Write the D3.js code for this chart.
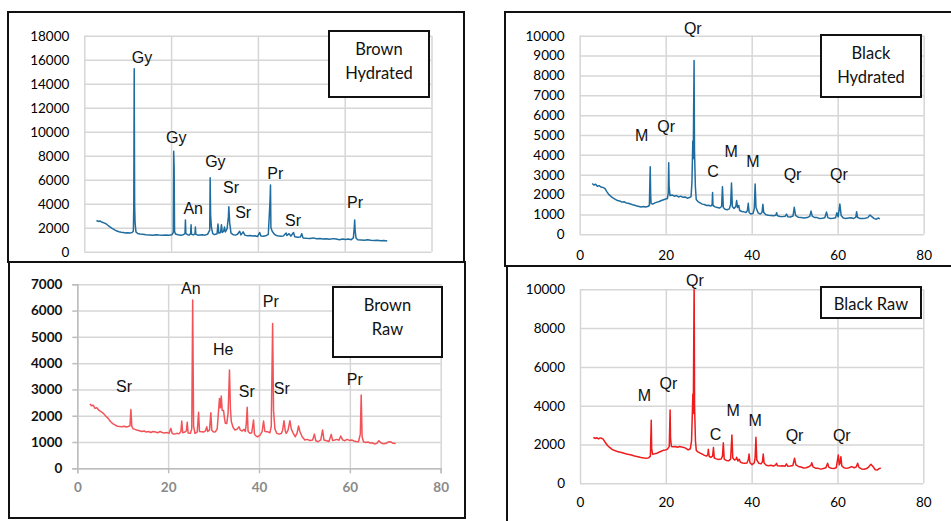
<!DOCTYPE html>
<html>
<head>
<meta charset="utf-8">
<script src="https://cdn.jsdelivr.net/npm/d3@7"></script>
<style>
  body { margin: 0; background: #fff; }
  svg { display: block; }
  .tick text { font-family: Lato, "Liberation Sans", sans-serif; font-size: 13.5px; fill: #000; }
  .grid line { stroke: #d6d6d6; stroke-width: 1.5; }
  .grid path { display: none; }
  .peak-label { font-family: "Liberation Sans", Arial, sans-serif; font-size: 16px; fill: #111; }
  .box-text { font-family: Lato, "Liberation Sans", sans-serif; font-size: 16.5px; fill: #111; }
</style>
</head>
<body>
<svg id="chart" width="951" height="521"></svg>
<script>
// XRD patterns: [2-theta, intensity]
const brownHydrated = [[2.8,2600],[3.2,2520],[3.6,2560],[4.0,2470],[4.5,2400],[5.0,2330],[5.5,2180],[6.0,2050],[6.5,1930],[7.0,1820],[7.5,1720],[8.0,1660],[8.5,1620],[9.0,1600],[9.5,1560],[10.0,1580],[10.5,1550],[11.0,1600],[11.3,1700],[11.4,3800],[11.5,15250],[11.6,3850],[11.7,2400],[11.9,1650],[12.3,1520],[12.8,1480],[13.5,1450],[14.2,1420],[15.0,1400],[15.8,1380],[16.5,1420],[17.2,1390],[18.0,1370],[18.8,1400],[19.5,1380],[20.2,1420],[20.5,1600],[20.6,8380],[20.7,7000],[20.8,1700],[21.0,1480],[21.6,1420],[22.2,1380],[22.8,1420],[23.2,1500],[23.3,2640],[23.4,1500],[23.8,1420],[24.2,1380],[24.5,1520],[24.6,2250],[24.7,1450],[25.1,1400],[25.5,1480],[25.6,2050],[25.7,1450],[26.2,1380],[26.6,1400],[27.2,1420],[27.8,1380],[28.4,1450],[28.9,1800],[29.0,6170],[29.1,3050],[29.3,2000],[29.6,1500],[30.0,1420],[30.6,1500],[30.8,2300],[31.0,1550],[31.4,1600],[31.6,2250],[31.8,1600],[32.1,1700],[32.3,2050],[32.5,1650],[32.9,1900],[33.2,2900],[33.3,3750],[33.5,2400],[33.8,1550],[34.3,1420],[34.8,1380],[35.3,1450],[35.8,1700],[36.1,1400],[36.6,1650],[37.0,1380],[37.6,1320],[38.2,1350],[38.8,1300],[39.4,1330],[39.9,1260],[40.4,1600],[40.7,1300],[41.2,1280],[41.8,1320],[42.4,1450],[42.8,4300],[42.9,5560],[43.0,2000],[43.3,1700],[43.8,1450],[44.3,1350],[44.8,1300],[45.4,1280],[45.9,1320],[46.5,1550],[46.7,1350],[47.2,1500],[47.6,1300],[48.2,1600],[48.5,1250],[49.2,1200],[49.8,1220],[50.1,1500],[50.4,1150],[51.2,1120],[52.0,1100],[52.8,1150],[53.5,1080],[54.3,1100],[55.0,1050],[55.8,1080],[56.5,1040],[57.3,1090],[58.0,1050],[58.8,1000],[59.5,1060],[60.2,1020],[60.8,1050],[61.5,1000],[62.0,1150],[62.2,2000],[62.3,2640],[62.4,1800],[62.6,1150],[63.0,1000],[63.8,980],[64.5,960],[65.3,990],[66.0,950],[66.8,930],[67.5,960],[68.3,920],[69.0,940],[69.8,900]];

const blackHydrated = [[2.9,2560],[3.3,2480],[3.7,2520],[4.1,2420],[4.5,2450],[5.0,2380],[5.5,2350],[5.9,2300],[6.3,2150],[6.8,2000],[7.3,1900],[7.8,1820],[8.3,1760],[8.8,1700],[9.3,1680],[9.8,1620],[10.3,1640],[10.8,1580],[11.3,1560],[11.8,1530],[12.3,1490],[12.8,1460],[13.3,1420],[13.8,1400],[14.3,1380],[14.8,1400],[15.3,1370],[15.8,1400],[16.2,1450],[16.4,3400],[16.5,2000],[16.6,1550],[17.0,1520],[17.5,1580],[18.0,1620],[18.5,1650],[19.0,1700],[19.5,1740],[20.0,1780],[20.4,1800],[20.6,2100],[20.7,3600],[20.8,2400],[21.0,1950],[21.5,1980],[22.0,1920],[22.5,1950],[23.0,1880],[23.5,1920],[24.0,1860],[24.5,1880],[25.0,1820],[25.5,1850],[25.9,1900],[26.1,2600],[26.3,4700],[26.4,3800],[26.6,8750],[26.7,4200],[26.9,2400],[27.1,1750],[27.5,1650],[28.0,1580],[28.5,1520],[29.0,1500],[29.5,1450],[30.0,1460],[30.5,1420],[30.8,1500],[30.9,2100],[31.0,1450],[31.5,1380],[32.0,1350],[32.5,1320],[33.0,1400],[33.2,2400],[33.4,1350],[33.8,1260],[34.3,1240],[34.8,1280],[35.1,1500],[35.3,2580],[35.5,1400],[35.9,1300],[36.3,1400],[36.5,1700],[36.7,1350],[37.0,1450],[37.2,1200],[37.7,1150],[38.2,1130],[38.7,1100],[39.0,1200],[39.2,1560],[39.4,1100],[39.8,1020],[40.3,1050],[40.6,1300],[40.8,2530],[41.0,1350],[41.5,1080],[42.0,1020],[42.4,1100],[42.6,1510],[42.8,1100],[43.3,980],[43.9,960],[44.5,950],[45.1,930],[45.6,960],[45.8,1090],[46.0,930],[46.6,900],[47.2,890],[47.8,910],[48.1,1020],[48.4,880],[49.0,870],[49.6,920],[49.9,1360],[50.2,950],[50.8,860],[51.5,840],[52.2,820],[52.9,840],[53.5,900],[53.8,1170],[54.1,900],[54.6,850],[55.2,840],[55.8,800],[56.4,810],[57.0,830],[57.4,1120],[57.7,840],[58.3,800],[58.9,810],[59.5,830],[59.8,1080],[60.1,880],[60.5,1520],[60.8,950],[61.3,820],[61.9,800],[62.5,820],[63.1,830],[63.7,800],[64.2,850],[64.4,1140],[64.6,860],[65.2,790],[65.8,800],[66.4,810],[67.0,840],[67.5,970],[68.0,880],[68.5,790],[69.0,760],[69.4,820],[69.8,780]];

const brownRaw = [[2.8,2450],[3.1,2380],[3.5,2400],[3.9,2280],[4.3,2300],[4.8,2200],[5.3,2150],[5.8,2080],[6.3,1980],[6.8,1900],[7.3,1780],[7.8,1700],[8.3,1650],[8.8,1600],[9.3,1590],[9.8,1580],[10.3,1600],[10.8,1570],[11.2,1590],[11.6,1620],[11.8,2240],[12.0,1600],[12.3,1500],[12.7,1480],[13.2,1450],[13.7,1430],[14.2,1400],[14.7,1420],[15.2,1380],[15.7,1400],[16.2,1360],[16.7,1400],[17.2,1380],[17.7,1350],[18.2,1400],[18.7,1360],[19.2,1340],[19.7,1360],[20.2,1330],[20.6,1520],[20.9,1320],[21.4,1300],[21.9,1330],[22.4,1310],[22.8,1400],[23.0,1800],[23.2,1350],[23.7,1380],[24.0,1420],[24.2,1750],[24.4,1340],[24.9,1330],[25.2,1500],[25.4,6400],[25.6,1600],[25.9,1330],[26.4,1380],[26.7,2130],[26.9,1400],[27.4,1390],[27.8,1380],[28.2,1420],[28.5,1580],[28.7,1400],[29.1,1450],[29.4,2110],[29.6,1450],[30.0,1380],[30.4,1390],[30.8,1500],[31.1,2200],[31.3,2660],[31.5,2300],[31.7,2750],[31.9,2200],[32.2,2200],[32.4,1900],[32.6,1710],[32.9,1700],[33.2,2100],[33.5,3740],[33.7,2300],[33.9,1780],[34.3,1550],[34.7,1460],[35.1,1480],[35.6,1580],[35.9,1450],[36.3,1420],[36.7,1480],[37.0,1400],[37.2,1700],[37.4,2320],[37.6,1400],[38.0,1330],[38.4,1350],[38.8,1840],[39.0,1300],[39.4,1220],[39.7,1200],[40.2,1250],[40.7,1400],[41.0,1800],[41.3,1400],[41.9,1390],[42.4,1350],[42.7,1600],[43.0,5510],[43.2,2200],[43.5,1500],[43.9,1330],[44.4,1300],[44.9,1320],[45.2,1450],[45.5,1810],[45.8,1400],[46.0,1330],[46.4,1450],[46.8,1810],[47.1,1500],[47.5,1350],[48.0,1200],[48.4,1350],[48.7,1610],[49.0,1400],[49.5,1200],[50.1,1080],[50.6,1100],[51.2,1060],[51.8,1080],[52.2,1300],[52.5,1050],[53.0,1010],[53.6,1080],[54.0,1460],[54.3,1080],[54.9,1050],[55.4,1020],[55.9,1290],[56.2,1060],[56.7,1080],[57.1,1100],[57.6,1070],[58.0,1230],[58.4,1080],[58.9,1050],[59.4,1100],[59.9,1060],[60.4,1080],[60.9,1040],[61.4,1020],[61.9,1010],[62.3,1300],[62.5,2790],[62.7,1200],[63.0,1010],[63.5,980],[64.0,1000],[64.5,960],[65.0,970],[65.5,920],[66.0,960],[66.4,1050],[66.9,960],[67.4,930],[67.9,940],[68.4,1000],[69.0,1010],[69.5,950],[70.1,940]];

const blackRaw = [[3.1,2370],[3.5,2310],[3.9,2350],[4.3,2290],[4.7,2340],[5.0,2320],[5.4,2280],[5.9,2100],[6.4,1950],[6.9,1850],[7.4,1760],[7.9,1700],[8.4,1660],[8.9,1630],[9.4,1600],[9.9,1570],[10.4,1540],[10.9,1510],[11.4,1490],[12.0,1460],[12.5,1420],[13.0,1390],[13.5,1370],[14.0,1340],[14.5,1320],[15.0,1300],[15.5,1290],[16.0,1310],[16.4,1400],[16.6,3250],[16.7,1800],[16.9,1500],[17.4,1520],[17.9,1550],[18.4,1600],[18.9,1650],[19.4,1700],[19.9,1720],[20.4,1760],[20.8,1900],[21.0,3780],[21.1,2300],[21.3,1900],[21.7,1880],[22.2,1900],[22.7,1860],[23.2,1900],[23.7,1870],[24.2,1850],[24.7,1800],[25.2,1720],[25.7,1780],[26.0,2200],[26.3,4600],[26.4,3600],[26.6,10500],[26.7,4000],[26.9,2200],[27.1,1700],[27.5,1620],[28.0,1560],[28.5,1500],[29.0,1440],[29.5,1400],[29.8,1480],[29.9,1750],[30.1,1380],[30.5,1340],[30.9,1400],[31.1,1840],[31.3,1300],[31.8,1260],[32.3,1230],[32.9,1250],[33.2,1400],[33.4,2090],[33.6,1250],[34.1,1180],[34.6,1160],[35.1,1250],[35.4,2490],[35.6,1300],[36.0,1200],[36.4,1250],[36.5,1340],[36.8,1150],[37.1,1240],[37.4,1080],[37.9,1050],[38.4,1030],[38.9,1050],[39.2,1200],[39.4,1510],[39.6,1060],[40.1,960],[40.6,1050],[40.8,1300],[41.0,2370],[41.2,1200],[41.7,1030],[42.2,1000],[42.5,1100],[42.7,1510],[42.9,1050],[43.4,930],[43.9,910],[44.5,930],[45.1,890],[45.6,950],[45.8,1030],[46.0,900],[46.6,890],[47.2,910],[47.8,880],[48.1,1000],[48.4,880],[49.0,890],[49.6,920],[50.0,1290],[50.3,950],[50.9,870],[51.5,840],[52.1,790],[52.7,800],[53.3,850],[53.8,920],[54.0,1060],[54.3,850],[54.9,780],[55.5,770],[56.1,730],[56.7,760],[57.3,800],[57.7,1030],[58.0,820],[58.6,780],[59.2,760],[59.7,800],[60.0,1200],[60.2,1460],[60.4,950],[60.6,1050],[60.8,1370],[61.0,900],[61.5,800],[62.1,770],[62.7,800],[63.3,860],[63.9,800],[64.4,850],[64.7,1030],[65.0,820],[65.6,740],[66.2,720],[66.8,760],[67.3,850],[67.8,980],[68.3,850],[68.8,700],[69.3,690],[69.7,760],[70.1,770]];

// phase labels: [text, 2-theta, intensity]
const brownHydratedLabels = [["Gy",13.3,16200],["Gy",21.2,9480],["Gy",30.2,7480],["An",25.1,3640],["Sr",33.8,5310],["Sr",36.6,3230],["Pr",44.0,6480],["Sr",48.1,2560],["Pr",62.4,4140]];
const blackHydratedLabels = [["Qr",26.3,10380],["M",14.4,5000],["Qr",20.1,5450],["C",31.0,3140],["M",35.2,4190],["M",40.3,3690],["Qr",49.5,3030],["Qr",60.3,3030]];
const brownRawLabels = [["Sr",10.3,3100],["An",25.0,6850],["He",32.1,4530],["Sr",37.3,2910],["Pr",42.6,6340],["Sr",45.0,3040],["Pr",61.1,3390]];
const blackRawLabels = [["Qr",26.8,10430],["M",15.0,4550],["Qr",20.6,5120],["C",31.6,2540],["M",35.7,3740],["M",40.8,3230],["Qr",50.0,2440],["Qr",61.0,2440]];

const xTicks = [0, 20, 40, 60, 80];
const yTicksBrownHydrated = d3.range(0, 18001, 2000);
const yTicksBlackHydrated = d3.range(0, 10001, 1000);
const yTicksBrownRaw = d3.range(0, 7001, 1000);
const yTicksBlackRaw = d3.range(0, 10001, 2000);

const svg = d3.select("#chart");

const panels = [
  {
    id: "bh", data: brownHydrated, labels: brownHydratedLabels, yTicks: yTicksBrownHydrated, yMax: 18000,
    color: "#1f6c9f", frame: [8, 12, 456, 250],
    plot: { left: 84.3, right: 431.5, top: 35.7, bottom: 251.7 },
    showX: false, box: { x: 329, y: 31, w: 100, h: 66, lines: ["Brown", "Hydrated"] }
  },
  {
    id: "kh", data: blackHydrated, labels: blackHydratedLabels, yTicks: yTicksBlackHydrated, yMax: 10000,
    color: "#1f6c9f", frame: [505, 12, 470, 254],
    plot: { left: 579.7, right: 923.7, top: 35.7, bottom: 234.3 },
    showX: true, xPad: 16, box: { x: 821, y: 35, w: 100, h: 62, lines: ["Black", "Hydrated"] }
  },
  {
    id: "br", data: brownRaw, labels: brownRawLabels, yTicks: yTicksBrownRaw, yMax: 7000,
    color: "#f25358", frame: [9, 262, 456, 256],
    plot: { left: 77.3, right: 440.7, top: 284.3, bottom: 468.3 },
    showX: true, xPad: 9, axisLines: true, bold: true,
    box: { x: 333, y: 287, w: 109, h: 70, lines: ["Brown", "Raw"] }
  },
  {
    id: "kr", data: blackRaw, labels: blackRawLabels, yTicks: yTicksBlackRaw, yMax: 10000,
    color: "#ee1c1c", frame: [507, 266, 470, 280],
    plot: { left: 580, right: 923.3, top: 289.3, bottom: 483.3 },
    showX: true, xPad: 14.5, box: { x: 821, y: 287, w: 100, h: 31, lines: ["Black Raw"] }
  }
];

panels.forEach(drawPanel);

function drawPanel(p) {
  const { left, right, top, bottom } = p.plot;
  const w = right - left, h = bottom - top;

  const x = d3.scaleLinear().domain([0, 80]).range([left, right]);
  const y = d3.scaleLinear().domain([0, p.yMax]).range([bottom, top]);

  const g = svg.append("g");

  // outer frame
  g.append("rect")
    .attr("x", p.frame[0]).attr("y", p.frame[1])
    .attr("width", p.frame[2]).attr("height", p.frame[3])
    .attr("fill", "none").attr("stroke", "#111").attr("stroke-width", 2);

  // grid
  g.append("g").attr("class", "grid")
    .attr("transform", `translate(${left},0)`)
    .call(d3.axisLeft(y).tickValues(p.yTicks).tickSize(-w).tickFormat(""));
  g.append("g").attr("class", "grid")
    .attr("transform", `translate(0,${bottom})`)
    .call(d3.axisBottom(x).tickValues(xTicks).tickSize(-h).tickFormat(""));

  // y axis labels
  const yAxis = g.append("g")
    .attr("transform", `translate(${left},0)`)
    .call(d3.axisLeft(y).tickValues(p.yTicks).tickSize(p.axisLines ? 5 : 0).tickPadding(p.axisLines ? 10 : 15).tickFormat(d3.format("d")));
  yAxis.select(".domain").attr("stroke", p.axisLines ? "#bdbdbd" : "none").attr("stroke-width", 1.5);
  yAxis.selectAll(".tick line").attr("stroke", "#bdbdbd").attr("stroke-width", 1.5);
  if (p.bold) yAxis.selectAll(".tick text").attr("font-weight", "bold").style("fill", "#111");

  if (p.showX) {
    const xAxis = g.append("g")
      .attr("transform", `translate(0,${bottom})`)
      .call(d3.axisBottom(x).tickValues(xTicks).tickSize(p.axisLines ? 5 : 0).tickPadding(p.xPad));
    xAxis.select(".domain").attr("stroke", p.axisLines ? "#bdbdbd" : "none").attr("stroke-width", 1.5);
    xAxis.selectAll(".tick line").attr("stroke", "#bdbdbd").attr("stroke-width", 1.5);
    if (p.bold) xAxis.selectAll(".tick text").attr("font-weight", "bold").style("fill", "#8a8a8a");
  }

  // clip + trace
  svg.append("clipPath").attr("id", `clip-${p.id}`)
    .append("rect").attr("x", left).attr("y", top).attr("width", w).attr("height", h);

  const line = d3.line().x(d => x(d[0])).y(d => y(d[1]));
  g.append("path")
    .datum(p.data)
    .attr("clip-path", `url(#clip-${p.id})`)
    .attr("fill", "none")
    .attr("stroke", p.color)
    .attr("stroke-width", 1.5)
    .attr("stroke-linejoin", "round")
    .attr("d", line);

  // phase labels
  g.selectAll("text.peak-label")
    .data(p.labels)
    .join("text")
    .attr("class", "peak-label")
    .attr("x", d => x(d[1]))
    .attr("y", d => y(d[2]))
    .attr("text-anchor", "middle")
    .attr("dominant-baseline", "central")
    .text(d => d[0]);

  // sample box
  const b = p.box;
  const box = g.append("g");
  box.append("rect")
    .attr("x", b.x).attr("y", b.y).attr("width", b.w).attr("height", b.h)
    .attr("fill", "#fff").attr("stroke", "#111").attr("stroke-width", 2);
  box.selectAll("text")
    .data(b.lines)
    .join("text")
    .attr("class", "box-text")
    .attr("x", b.x + b.w / 2)
    .attr("y", (d, i) => b.y + (b.lines.length === 1 ? b.h / 2 + 1 : 18 + i * 24))
    .attr("text-anchor", "middle")
    .attr("dominant-baseline", "central")
    .text(d => d);
}
</script>
</body>
</html>
